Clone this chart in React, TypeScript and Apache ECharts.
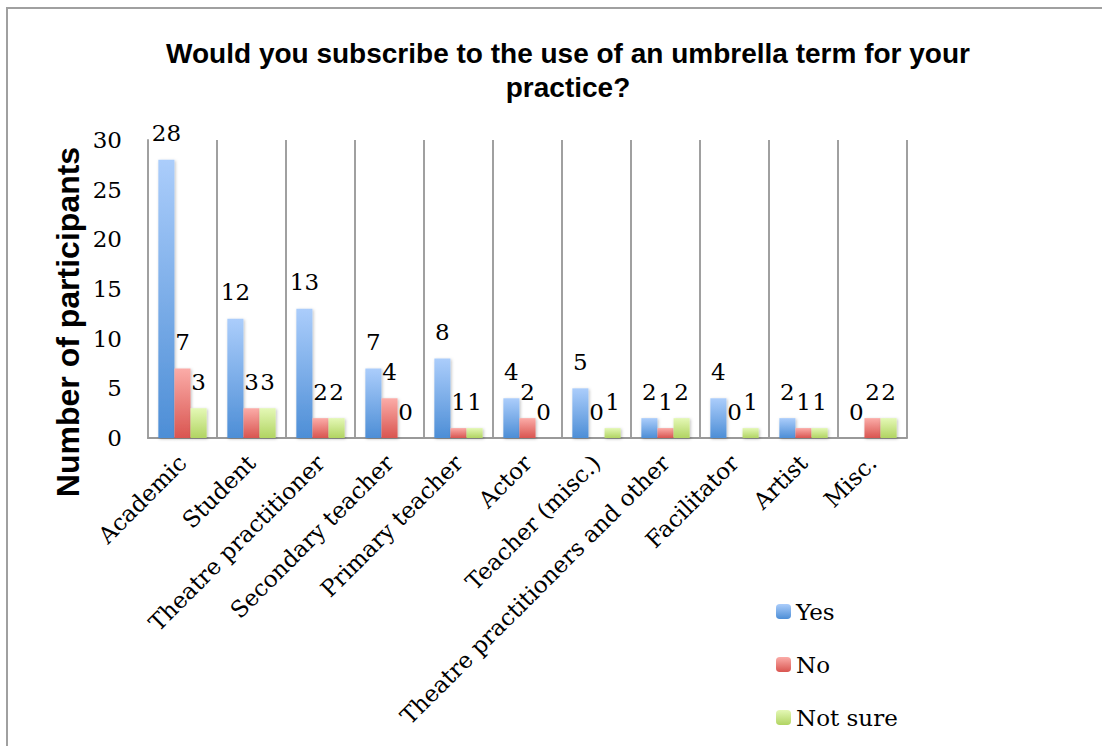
import React, { useEffect, useRef } from "react";
import * as echarts from "echarts";

const categories = [
  "Academic",
  "Student",
  "Theatre practitioner",
  "Secondary teacher",
  "Primary teacher",
  "Actor",
  "Teacher (misc.)",
  "Theatre practitioners and other",
  "Facilitator",
  "Artist",
  "Misc.",
];
const yesValues = [28, 12, 13, 7, 8, 4, 5, 2, 4, 2, 0];
const noValues = [7, 3, 2, 4, 1, 2, 0, 1, 0, 1, 2];
const notSureValues = [3, 3, 2, 0, 1, 0, 1, 2, 1, 1, 2];
const seriesNames = ["Yes", "No", "Not sure"];

const SERIF = "'DejaVu Serif', 'Liberation Serif', serif";
const SANS = "'Liberation Sans', Arial, sans-serif";

function grad(top: string, bottom: string) {
  return new echarts.graphic.LinearGradient(0, 0, 0, 1, [
    { offset: 0, color: top },
    { offset: 1, color: bottom },
  ]);
}

export default function App() {
  const ref = useRef<HTMLDivElement>(null);
  useEffect(() => {
    if (!ref.current) return;
    const chart = echarts.init(ref.current, undefined, { renderer: "svg" });
    const colors = [
      grad("#abcdfb", "#4d8ed6"),
      grad("#fbaca8", "#d95550"),
      grad("#e4f8b6", "#b1d462"),
    ];
    const datas = [yesValues, noValues, notSureValues];
    chart.setOption({
      animation: false,
      backgroundColor: "#ffffff",
      title: {
        text: "Would you subscribe to the use of an umbrella term for your\npractice?",
        left: 563,
        textAlign: "center",
        top: 31,
        textStyle: {
          fontFamily: SANS,
          fontWeight: "bold",
          fontSize: 28,
          lineHeight: 34,
          color: "#000",
        },
      },
      graphic: [
        {
          type: "rect",
          shape: { x: 7, y: 8, width: 1200, height: 800 },
          style: { fill: "none", stroke: "#a0a0a0", lineWidth: 2 },
          silent: true,
        },
        {
          type: "text",
          x: 68,
          y: 322,
          rotation: Math.PI / 2,
          style: {
            text: "Number of participants",
            fontFamily: SANS,
            fontWeight: "bold",
            fontSize: 32,
            fill: "#000",
            align: "center",
            verticalAlign: "middle",
          },
          silent: true,
        },
      ],
      legend: {
        orient: "vertical",
        left: 771,
        top: 595,
        itemWidth: 15,
        itemHeight: 15,
        itemGap: 30,
        data: seriesNames,
        textStyle: { fontFamily: SERIF, fontSize: 23, color: "#000" },
      },
      grid: { left: 148, right: 195, top: 140, bottom: 308 },
      xAxis: {
        type: "category",
        data: categories,
        axisLine: { lineStyle: { color: "#999", width: 2 } },
        axisTick: { show: false },
        splitLine: { show: true, lineStyle: { color: "#a0a0a0", width: 2 } },
        axisLabel: {
          rotate: 45,
          interval: 0,
          margin: 21,
          fontFamily: SERIF,
          fontSize: 23,
          color: "#000",
        },
      },
      yAxis: {
        type: "value",
        min: 0,
        max: 30,
        interval: 5,
        axisLine: { show: true, lineStyle: { color: "#a0a0a0", width: 2 } },
        axisTick: { show: false },
        splitLine: { show: false },
        axisLabel: {
          margin: 26,
          fontFamily: SERIF,
          fontSize: 23,
          color: "#000",
        },
      },
      series: seriesNames.map((name, i) => ({
        name,
        type: "bar",
        data: datas[i],
        barGap: "0%",
        barCategoryGap: "30%",
        itemStyle: {
          color: colors[i],
          shadowBlur: 3,
          shadowColor: "rgba(0,0,0,0.25)",
          shadowOffsetX: 1,
          shadowOffsetY: 1,
        },
        label: {
          show: true,
          position: "top",
          distance: 15,
          fontFamily: SERIF,
          fontSize: 23,
          color: "#000",
        },
      })),
    });
    return () => chart.dispose();
  }, []);
  return (
    <div
      ref={ref}
      style={{ position: "absolute", left: 0, top: 0, width: 1102, height: 746 }}
    />
  );
}
